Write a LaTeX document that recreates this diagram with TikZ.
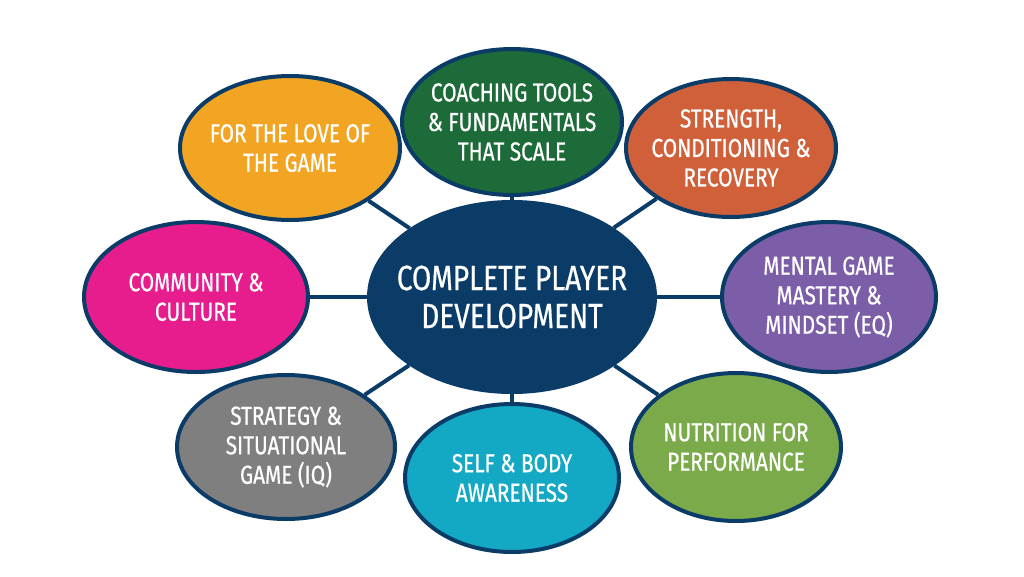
\documentclass[tikz,border=0pt]{standalone}
\usepackage{fontspec}
\setmainfont{Fira Sans}[FakeStretch=0.8,FakeBold=0.6]
\usetikzlibrary{shapes.geometric}
\definecolor{navy}{HTML}{0B3C68}
\definecolor{cgreen}{HTML}{1E6B3A}
\definecolor{corange}{HTML}{D0603A}
\definecolor{cpurple}{HTML}{7B5EA7}
\definecolor{clime}{HTML}{7BAA4A}
\definecolor{cteal}{HTML}{13A9C4}
\definecolor{cgray}{HTML}{7F7F7F}
\definecolor{cpink}{HTML}{E71D8E}
\definecolor{cyellow}{HTML}{F2A522}
\begin{document}
\begin{tikzpicture}[x=1pt,y=-1pt,line width=4pt,
    main node/.style={ellipse,draw=navy,inner sep=-20pt,align=center,text=white,
      font=\fontsize{26}{29.5}\selectfont,minimum width=214pt,minimum height=146pt}]
  \useasboundingbox (0,0) rectangle (1024,576);
  % Nodes
  \node[main node,fill=navy,minimum width=286pt,minimum height=190pt,
        font=\fontsize{35}{38}\selectfont] (C) at (512,297) {COMPLETE PLAYER\\DEVELOPMENT};
  \node[main node,fill=cgreen,minimum width=220pt] (T) at (512,122) {COACHING TOOLS\\\& FUNDAMENTALS\\THAT SCALE};
  \node[main node,fill=corange,minimum width=210pt,minimum height=138pt] (TR) at (731,148) {STRENGTH,\\CONDITIONING \&\\RECOVERY};
  \node[main node,fill=cpurple,minimum height=150pt] (R) at (829,297) {MENTAL GAME\\MASTERY \&\\MINDSET (EQ)};
  \node[main node,fill=clime,minimum width=210pt,minimum height=148pt] (BR) at (736,447) {NUTRITION FOR\\PERFORMANCE};
  \node[main node,fill=cteal,minimum height=148pt] (B) at (512,478) {SELF \& BODY\\AWARENESS};
  \node[main node,fill=cgray,minimum width=218pt,minimum height=144pt] (BL) at (286,447) {STRATEGY \&\\SITUATIONAL\\GAME (IQ)};
  \node[main node,fill=cpink,minimum width=224pt,minimum height=150pt] (L) at (196,297) {COMMUNITY \&\\CULTURE};
  \node[main node,fill=cyellow,minimum width=220pt,minimum height=144pt] (TL) at (290,148) {FOR THE LOVE OF\\THE GAME};
  % Edges
  \foreach \n in {T,TR,R,BR,B,BL,L,TL}
    \draw[navy] (C) -- (\n);
\end{tikzpicture}
\end{document}
